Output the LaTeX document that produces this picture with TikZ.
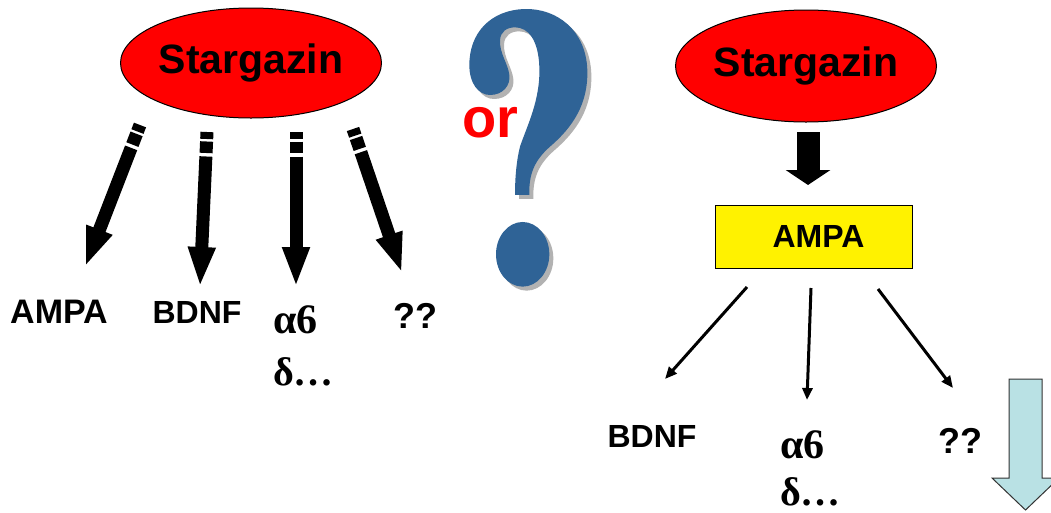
\documentclass[tikz,border=0pt]{standalone}
\usepackage{fontspec}
\setmainfont{Liberation Serif}
\newfontfamily\arialf{Liberation Sans}
\usetikzlibrary{arrows.meta,shapes.geometric}
\definecolor{qblue}{RGB}{47,99,150}
\definecolor{qshadow}{RGB}{178,178,178}
\definecolor{lblue}{RGB}{185,225,228}
\tikzset{
  ell/.style={ellipse, draw=black, line width=1pt, fill=red, inner sep=0pt,
    font=\arialf\bfseries\fontsize{41}{41}\selectfont},
  sanslab/.style={inner sep=0pt, anchor=base, font=\arialf\bfseries\fontsize{32}{32}\selectfont},
  qqlab/.style={inner sep=0pt, anchor=base, font=\arialf\bfseries\fontsize{36}{36}\selectfont},
  greeklab/.style={inner sep=0pt, anchor=base west, font=\bfseries\fontsize{42}{42}\selectfont},
  bigarrow/.style={line width=13pt, -{Triangle[length=40pt,width=25pt]},
    dash pattern=on 7pt off 2.5pt on 11.5pt off 3.5pt on 400pt},
  thinarrow/.style={line width=3pt, -{Triangle[length=12pt,width=10pt]}},
  blockarrow/.style={line width=23pt, -{Triangle[length=15pt,width=44pt]}},
  qmark/.pic={
    \path[pic actions] (225,585) -- (268,585)
      .. controls (266,520) and (285,480) .. (330,440)
      .. controls (400,380) and (445,310) .. (442,210)
      .. controls (438,90) and (350,25) .. (255,27)
      .. controls (150,30) and (88,100) .. (88,195)
      .. controls (88,250) and (115,285) .. (150,285)
      .. controls (190,285) and (212,255) .. (208,225)
      .. controls (204,190) and (178,160) .. (180,120)
      .. controls (182,95) and (200,82) .. (225,82)
      .. controls (265,82) and (295,120) .. (298,200)
      .. controls (302,300) and (260,380) .. (240,440)
      .. controls (230,480) and (225,530) .. (225,585) -- cycle;
    \path[pic actions] (248,763) ellipse [x radius=80, y radius=97];
  }
}
\begin{document}
\begin{tikzpicture}[x=1pt,y=-1pt]
\useasboundingbox (0,0) rectangle (1051,512);
\clip (0,0) rectangle (1051,512);
\fill[white] (0,0) rectangle (1051,512);

% ---------- left panel ----------
\node[ell, minimum width=258pt, minimum height=110pt] (s1) at (251,63) {Stargazin};

\coordinate (a1s) at (140,125); \coordinate (a1e) at (85,267);
\coordinate (a2s) at (207,132); \coordinate (a2e) at (200,287);
\coordinate (a3s) at (296,132); \coordinate (a3e) at (296,287);
\coordinate (a4s) at (353,129); \coordinate (a4e) at (402,273);
\draw[bigarrow] (a1s) -- (a1e);
\draw[bigarrow] (a2s) -- (a2e);
\draw[bigarrow] (a3s) -- (a3e);
\draw[bigarrow] (a4s) -- (a4e);

\node[sanslab, font=\arialf\bfseries\fontsize{34}{34}\selectfont] (lampa) at (59,323) {AMPA};
\node[sanslab] (lbdnf) at (197,323) {BDNF};
\node[greeklab] (la6) at (273,333) {α6};
\node[greeklab, font=\bfseries\fontsize{40}{40}\selectfont] (ld) at (273,385) {δ…};
\node[qqlab] (lqq) at (415,328) {??};

% ---------- question mark and "or" ----------
\begin{scope}[shift={(444,4)}, x=0.3333pt, y=-0.3333pt]
  \pic[fill=qshadow] {qmark};
\end{scope}
\begin{scope}[shift={(440,0)}, x=0.3333pt, y=-0.3333pt]
  \pic[fill=qblue] {qmark};
\end{scope}
\node[inner sep=0pt, anchor=base, text=red, font=\arialf\bfseries\fontsize{56}{56}\selectfont] (or) at (490,137) {or};

% ---------- right panel ----------
\node[ell, minimum width=242pt, minimum height=112pt] (s2) at (806,66) {Stargazin};
\coordinate (bs) at (808,132); \coordinate (be) at (808,185);
\draw[blockarrow] (bs) -- (be);

\node[draw=black, line width=1pt, fill=yellow, minimum width=197pt, minimum height=63pt,
  inner sep=0pt, font=\arialf\bfseries\fontsize{32}{32}\selectfont] (ampa) at (813.5,236.5) {\hspace*{10pt}AMPA};

\coordinate (t1s) at (747,287); \coordinate (t1e) at (665,379);
\coordinate (t2s) at (811,288); \coordinate (t2e) at (807,400);
\coordinate (t3s) at (878,289); \coordinate (t3e) at (953,388);
\draw[thinarrow] (t1s) -- (t1e);
\draw[thinarrow] (t2s) -- (t2e);
\draw[thinarrow] (t3s) -- (t3e);

\node[sanslab] (rbdnf) at (652,447) {BDNF};
\node[greeklab] (ra6) at (780,458) {α6};
\node[greeklab, font=\bfseries\fontsize{40}{40}\selectfont] (rd) at (780,505) {δ…};
\node[qqlab] (rqq) at (960,453) {??};

\draw[fill=lblue, draw=black!80, line width=1pt]
  (1009,379) -- (1042,379) -- (1042,478) -- (1059,478) -- (1025.5,510)
  -- (992,478) -- (1009,478) -- cycle;
\end{tikzpicture}
\end{document}
